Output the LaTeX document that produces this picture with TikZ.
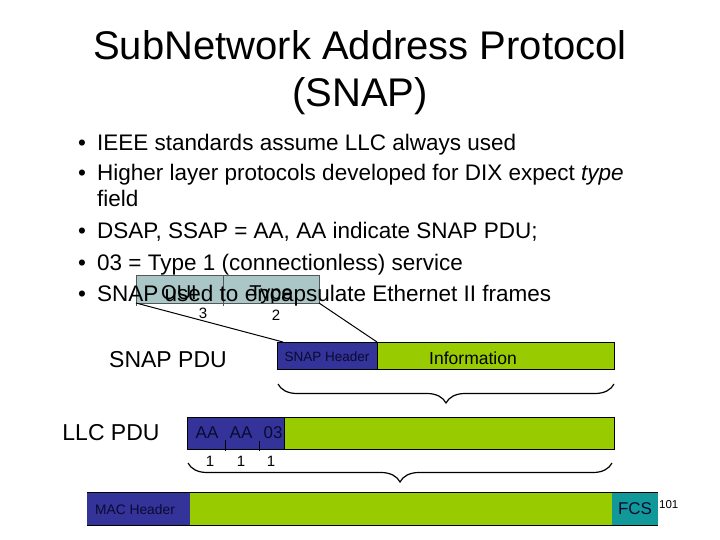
\documentclass[tikz,border=0pt]{standalone}
\usepackage{fontspec}
\setmainfont{Liberation Sans}
\usetikzlibrary{decorations.pathreplacing}
\definecolor{snapblue}{HTML}{333399}
\definecolor{snapgreen}{HTML}{99CC00}
\definecolor{snapteal}{HTML}{119999}
\definecolor{ouifill}{HTML}{ABC6C6}
\definecolor{ouiline}{HTML}{555555}
\definecolor{hdrtext}{HTML}{0A0A30}
\begin{document}
\begin{tikzpicture}[x=1pt,y=-1pt,
  titletext/.style={font=\fontsize{40}{46}\selectfont, anchor=base, inner sep=0},
  btext/.style={font=\fontsize{22.5}{27}\selectfont, anchor=base west, inner sep=0},
  pdutext/.style={font=\fontsize{23}{27}\selectfont, anchor=base, inner sep=0},
  cell/.style={anchor=north west, inner sep=0, outer sep=0, line width=0.7pt},
  small/.style={font=\fontsize{15}{18}\selectfont, anchor=base, inner sep=0},
  celltext/.style={text=hdrtext, anchor=base, inner sep=0},
  bracestyle/.style={decorate, decoration={brace, amplitude=19pt}, line width=1.2pt},
  conn/.style={line width=1pt}]
\useasboundingbox (0,0) rectangle (720,540);

% title
\node[titletext] (t1) at (360,60) {SubNetwork Address Protocol};
\node[titletext] (t2) at (360,107) {(SNAP)};

% OUI / Type box (behind text)
\node[cell, fill=ouifill, draw=ouiline, minimum width=87, minimum height=28] (oui) at (136,275) {};
\node[cell, fill=ouifill, draw=ouiline, minimum width=96, minimum height=28] (type) at (223,275) {};

% bullets
\foreach \yy/\nm in {151/b1,181/b2,239/b4,270/b5,301/b6}
  \node[btext] (\nm) at (78,\yy) {•};
\node[btext] (l1) at (97,151) {IEEE standards assume LLC always used};
\node[btext] (l2) at (97,181) {Higher layer protocols developed for DIX expect \textit{type}};
\node[btext] (l3) at (97,207) {field};
\node[btext] (l4) at (97,239) {DSAP, SSAP = AA, AA indicate SNAP PDU;};
\node[btext] (l5) at (97,270) {03 = Type 1 (connectionless) service};
\node[btext] (l6) at (97,301) {SNAP used to encapsulate Ethernet II frames};

% OUI / Type labels
\node[font=\fontsize{20}{22}\selectfont, anchor=base, inner sep=0] (ouit) at (179,299) {OUI};
\node[font=\fontsize{20}{22}\selectfont, anchor=base, inner sep=0] (typet) at (271,299) {Type};
\draw[ouiline, line width=0.7pt] (oui.south west) -- ++(0,3);
\draw[ouiline, line width=0.7pt] (type.south west) -- ++(0,3);
\node[small] (n3) at (203,318) {3};
\node[small] (n2) at (276,320) {2};

% SNAP PDU
\node[pdutext] (snappdu) at (168,367) {SNAP PDU};
\node[cell, fill=snapblue, draw=black, minimum width=100, minimum height=27] (snaphdr) at (277,342) {};
\node[cell, fill=snapgreen, draw=black, minimum width=237, minimum height=27] (info) at (377,342) {};
\node[font=\fontsize{13.5}{16}\selectfont, celltext] (snaphdrt) at (327,361) {SNAP Header};
\node[font=\fontsize{17.5}{20}\selectfont, anchor=base, inner sep=0] (infot) at (473,364) {Information};
\draw[conn] (oui.south west) -- ([xshift=6pt]snaphdr.north west);
\draw[conn] (type.south east) -- (snaphdr.north east);
\coordinate (br1r) at (614,384);
\coordinate (br1l) at (278,384);
\draw[bracestyle] (br1r) -- (br1l);

% LLC PDU
\node[pdutext] (llcpdu) at (111,440) {LLC PDU};
\node[cell, fill=snapblue, draw=black, minimum width=97, minimum height=32] (llchdr) at (187,417) {};
\node[cell, fill=snapgreen, draw=black, minimum width=330, minimum height=32] (llcdata) at (284,417) {};
\node[font=\fontsize{17}{20}\selectfont, celltext] (aa1) at (207,438) {AA};
\node[font=\fontsize{17}{20}\selectfont, celltext] (aa2) at (241,438) {AA};
\node[font=\fontsize{17}{20}\selectfont, celltext] (c03) at (273,438) {03};
\coordinate (d1t) at (225,440);
\coordinate (d1b) at (225,451);
\coordinate (d2t) at (259,441);
\coordinate (d2b) at (259,451);
\draw[line width=0.7pt] (d1t) -- (d1b);
\draw[line width=0.7pt] (d2t) -- (d2b);
\node[small] (o1) at (210,466) {1};
\node[small] (o2) at (241,466) {1};
\node[small] (o3) at (271,466) {1};
\coordinate (br2r) at (612,463);
\coordinate (br2l) at (188,463);
\draw[bracestyle] (br2r) -- (br2l);

% MAC frame
\node[cell, fill=snapblue, minimum width=103, minimum height=33] (machdr) at (87,492) {};
\node[cell, fill=snapgreen, minimum width=422, minimum height=33] (macdata) at (190,492) {};
\node[cell, fill=snapteal, minimum width=46, minimum height=33] (fcs) at (612,492) {};
\draw[line width=1pt] (machdr.north west) -- (fcs.north east);
\draw[line width=1pt] (machdr.south west) -- (fcs.south east);
\node[font=\fontsize{13.8}{16}\selectfont, celltext] (machdrt) at (135,514) {MAC Header};
\node[font=\fontsize{17}{20}\selectfont, celltext] (fcst) at (635,514) {FCS};
\node[font=\fontsize{11.5}{14}\selectfont, anchor=base west, inner sep=0] (pg) at (659,508) {101};
\end{tikzpicture}
\end{document}
